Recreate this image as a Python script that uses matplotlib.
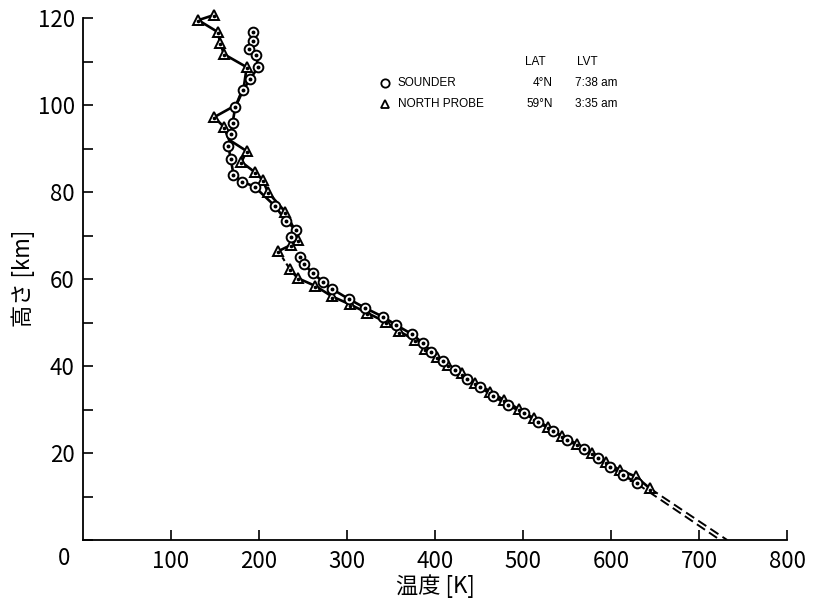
import numpy as np
import matplotlib
matplotlib.use("Agg")
import matplotlib.pyplot as plt
from matplotlib.ticker import MultipleLocator, FixedLocator

plt.rcParams['font.family'] = ['Noto Sans CJK JP', 'DejaVu Sans']

# ---- data (temperature [K], altitude [km]) ----
sounder_T = [193, 193, 189, 197, 199, 190, 182, 173, 170, 168, 165, 168, 171, 181, 195,
             218, 231, 242, 236,
             247, 251, 261, 273, 283, 302, 321, 341, 356, 374, 386, 396, 409, 423, 436,
             451, 466, 483, 501, 517, 534, 550, 569, 585, 599, 614, 629]
sounder_h = [116.8, 114.7, 112.8, 111.5, 108.7, 106.0, 103.4, 99.5, 95.9, 93.3, 90.6, 87.6, 83.9, 82.4, 81.2,
             76.8, 73.3, 71.3, 69.7,
             65.1, 63.4, 61.4, 59.3, 57.7, 55.4, 53.3, 51.3, 49.4, 47.3, 45.3, 43.2, 41.1, 39.1, 37.1,
             35.2, 33.1, 31.0, 29.2, 27.1, 25.1, 23.0, 20.9, 18.9, 16.8, 15.0, 13.0]
sounder_gap_after = 18          # no data between 69.7 km and 65.1 km
sounder_surface_T = 724         # extrapolated surface temperature

probe_T = [149, 131, 153, 156, 160, 186, 183, 174, 149, 160, 166, 186, 180, 195, 204, 210,
           230, 240, 244, 236, 222,
           235, 244, 264, 283, 303, 323, 344, 359, 377, 389, 402, 415, 431, 446, 463, 478,
           495, 512, 528, 544, 561, 578, 594, 610, 628, 644]
probe_h = [120.7, 119.5, 116.8, 114.3, 111.7, 108.7, 104.5, 100.0, 97.2, 95.0, 92.0, 89.4, 86.9, 84.6, 82.8, 80.0,
           75.4, 71.5, 69.0, 67.8, 66.4,
           62.3, 60.2, 58.4, 56.0, 54.2, 52.2, 50.1, 48.0, 46.0, 44.0, 42.1, 40.2, 38.3, 36.2, 34.1, 32.2,
           30.1, 28.0, 26.0, 23.9, 22.1, 20.0, 17.9, 16.1, 14.6, 11.9]
probe_measured = [1, 1, 1, 1, 1, 1, 0, 0, 1, 1, 0, 1, 1, 1, 1, 1,
                  1, 0, 1, 1, 1,
                  1, 1, 1, 1, 1, 1, 1, 1, 1, 1, 1, 1, 1, 1, 1, 1,
                  1, 1, 1, 1, 1, 1, 1, 1, 1, 1]
probe_gap_after = 20            # dashed between 66.4 km and 62.3 km
probe_surface_T = 732

x_ticks = [100, 200, 300, 400, 500, 600, 700, 800]
y_ticks = [20, 40, 60, 80, 100, 120]

legend_rows = [("SOUNDER", "4°N", "7:38 am"), ("NORTH PROBE", "59°N", "3:35 am")]

# ---- figure ----
fig = plt.figure(figsize=(8.16, 6.05), dpi=100)
ax = fig.add_axes([83/816, 1-540/605, 704/816, 522/605])
ax.set_xlim(0, 800)
ax.set_ylim(0, 120)

lw = 1.9
k = 'black'
sT, sh = np.array(sounder_T), np.array(sounder_h)
pT, ph = np.array(probe_T), np.array(probe_h)
g = sounder_gap_after
pg = probe_gap_after

# lines
ax.plot(pT[:pg+1], ph[:pg+1], color=k, lw=lw, zorder=2, clip_on=False)
ax.plot(pT[pg:pg+2], ph[pg:pg+2], color=k, lw=lw*0.8, ls=(0, (2, 1.5)), zorder=2)
ax.plot(pT[pg+1:], ph[pg+1:], color=k, lw=lw, zorder=2)
ax.plot(sT[:g+1], sh[:g+1], color=k, lw=lw, zorder=2)
ax.plot(sT[g+1:], sh[g+1:], color=k, lw=lw, zorder=2)
# extrapolation to the surface
ax.plot([sT[-1], sounder_surface_T], [sh[-1], 0], color=k, lw=1.4, ls=(0, (5, 2.5)), zorder=2)
ax.plot([pT[-1], probe_surface_T], [ph[-1], 0], color=k, lw=1.4, ls=(0, (5, 2.5)), zorder=2)

# markers
pm = [i for i, m in enumerate(probe_measured) if m]
ax.plot(pT[pm], ph[pm], ls='none', marker='^', ms=7.5, mfc='white', mec=k, mew=1.4,
        zorder=3, clip_on=False)
ax.plot(pT[pm], ph[pm] - 0.3, ls='none', marker='o', ms=1.6, mfc=k, mec=k, zorder=4, clip_on=False)
ax.plot(sT, sh, ls='none', marker='o', ms=7, mfc='white', mec=k, mew=1.4, zorder=5)
ax.plot(sT, sh, ls='none', marker='o', ms=1.8, mfc=k, mec=k, zorder=6)

# axes styling
for s in ['top', 'right']:
    ax.spines[s].set_visible(False)
for s in ['left', 'bottom']:
    ax.spines[s].set_linewidth(1.3)
ax.xaxis.set_major_locator(FixedLocator(x_ticks))
ax.yaxis.set_major_locator(FixedLocator(y_ticks))
ax.yaxis.set_minor_locator(MultipleLocator(10))
ax.tick_params(axis='both', which='both', direction='in', length=7, width=1.2,
               labelsize=16, colors=k)
ax.tick_params(axis='x', pad=7)
ax.tick_params(axis='y', pad=6)
ax.text(-0.027, -0.0345, "0", transform=ax.transAxes, ha='center', va='center', fontsize=16)

ax.set_xlabel("温度 [K]", fontsize=16, va='center')
ax.xaxis.set_label_coords(0.5, (540-586)/522)
ax.set_ylabel("高さ [km]", fontsize=16, va='center')
ax.yaxis.set_label_coords((23-83)/704, (540-278.5)/522)

# legend block
lf = dict(family='Liberation Sans', fontsize=8.5, transform=ax.transAxes, va='center')
ax.text(0.642, 0.9157, "LAT", ha='center', **lf)
ax.text(0.717, 0.9157, "LVT", ha='center', **lf)
rows_y = [0.8755, 0.835]
markers = ['o', '^']
for (name, lat, lvt), y, m in zip(legend_rows, rows_y, markers):
    ax.plot([0.429], [y], transform=ax.transAxes, marker=m, ms=6, mfc='white', mec=k,
            mew=1.3, ls='none', clip_on=False)
    ax.text(0.4474, y, name, ha='left', **lf)
    ax.text(0.6676, y, lat, ha='right', **lf)
    ax.text(0.699, y, lvt, ha='left', **lf)

fig.savefig("out.png", dpi=100)
